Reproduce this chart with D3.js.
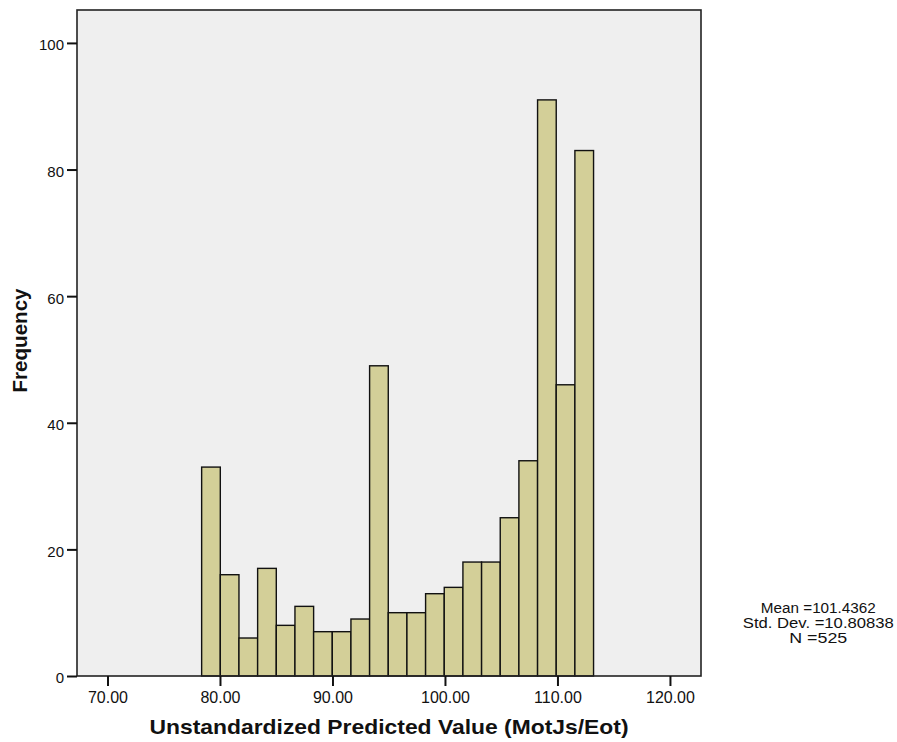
<!DOCTYPE html>
<html>
<head>
<meta charset="utf-8">
<script src="https://cdn.jsdelivr.net/npm/d3@7/dist/d3.min.js"></script>
<style>
  html, body { margin: 0; padding: 0; background: #ffffff; }
  svg { display: block; font-family: "Liberation Sans", Arial, sans-serif; }
</style>
</head>
<body>
<svg id="chart" width="897" height="742"></svg>
<script>
// Histogram of unstandardized predicted values
const binStart = 78.37;      // lower edge of the first bin
const binWidth = 1.659;      // width of each bin
const counts = [33, 16, 6, 17, 8, 11, 7, 7, 9, 49, 10, 10, 13, 14, 18, 18, 25, 34, 91, 46, 83];
const xTicks = [70, 80, 90, 100, 110, 120];
const yTicks = [0, 20, 40, 60, 80, 100];
const statsLines = ["Mean =101.4362", "Std. Dev. =10.80838", "N =525"];
const xTitle = "Unstandardized Predicted Value (MotJs/Eot)";
const yTitle = "Frequency";

const bins = counts.map((c, i) => ({
  x0: binStart + i * binWidth,
  x1: binStart + (i + 1) * binWidth,
  count: c
}));

const svg = d3.select("#chart");
const plot = { left: 77, right: 701, top: 10, bottom: 676 };

const x = d3.scaleLinear().domain([67.29, 122.76]).range([plot.left, plot.right]);
const y = d3.scaleLinear().domain([0, 105.2]).range([plot.bottom, plot.top]);

// plot background
svg.append("rect")
  .attr("x", plot.left).attr("y", plot.top)
  .attr("width", plot.right - plot.left).attr("height", plot.bottom - plot.top)
  .attr("fill", "#efefef");

// bars
svg.append("g").selectAll("rect").data(bins).join("rect")
  .attr("x", d => x(d.x0))
  .attr("y", d => y(d.count))
  .attr("width", d => x(d.x1) - x(d.x0))
  .attr("height", d => y(0) - y(d.count))
  .attr("fill", "#d3cf98")
  .attr("stroke", "#111")
  .attr("stroke-width", 1.4);

// frame
svg.append("rect")
  .attr("x", plot.left).attr("y", plot.top)
  .attr("width", plot.right - plot.left).attr("height", plot.bottom - plot.top)
  .attr("fill", "none").attr("stroke", "#222").attr("stroke-width", 1.6);

// y axis
const yAxis = svg.append("g")
  .attr("transform", `translate(${plot.left},0)`)
  .call(d3.axisLeft(y).tickValues(yTicks).tickSize(10).tickPadding(3).tickSizeOuter(0));
yAxis.select(".domain").remove();
yAxis.selectAll(".tick line").attr("stroke", "#111").attr("stroke-width", 2);
yAxis.selectAll(".tick text").attr("font-size", 15).attr("fill", "#111").attr("dy", "0.46em")
  .attr("font-family", "Liberation Sans, Arial, sans-serif");

// x axis
const xAxis = svg.append("g")
  .attr("transform", `translate(0,${plot.bottom})`)
  .call(d3.axisBottom(x).tickValues(xTicks).tickFormat(d3.format(".2f"))
    .tickSize(10).tickPadding(6).tickSizeOuter(0));
xAxis.select(".domain").remove();
xAxis.selectAll(".tick line").attr("stroke", "#111").attr("stroke-width", 2);
xAxis.selectAll(".tick text").attr("font-size", 16).attr("fill", "#111")
  .attr("font-family", "Liberation Sans, Arial, sans-serif");

// axis titles
svg.append("text")
  .attr("x", (plot.left + plot.right) / 2).attr("y", 734)
  .attr("text-anchor", "middle")
  .attr("font-size", 21).attr("font-weight", "bold").attr("fill", "#111")
  .attr("textLength", 479).attr("lengthAdjust", "spacingAndGlyphs")
  .text(xTitle);

svg.append("text")
  .attr("transform", `translate(27,340.5) rotate(-90)`)
  .attr("text-anchor", "middle")
  .attr("font-size", 20.6).attr("font-weight", "bold").attr("fill", "#111")
  .text(yTitle);

// summary statistics
const statWidths = [115, 151, 58];
svg.append("g").selectAll("text").data(statsLines).join("text")
  .attr("x", 818.3)
  .attr("y", (d, i) => 612.5 + i * 15.4)
  .attr("text-anchor", "middle")
  .attr("font-size", 14).attr("fill", "#111")
  .attr("textLength", (d, i) => statWidths[i]).attr("lengthAdjust", "spacingAndGlyphs")
  .text(d => d);
</script>
</body>
</html>
